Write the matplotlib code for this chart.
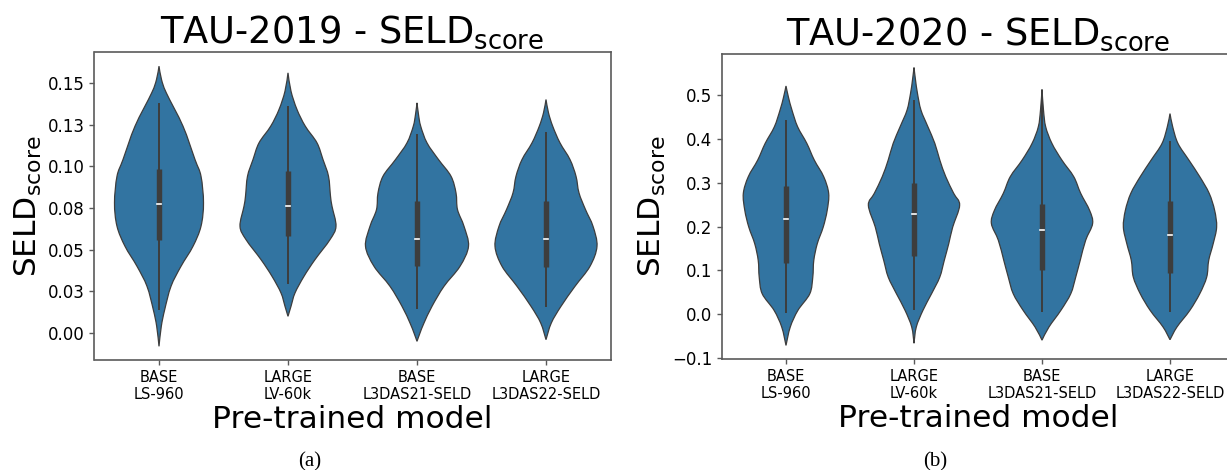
import numpy as np
import matplotlib.pyplot as plt
from matplotlib.path import Path
from matplotlib.patches import PathPatch

plt.rcParams['font.family'] = ['DejaVu Sans']
plt.rcParams['mathtext.default'] = 'regular'

models = ["BASE\nLS-960", "LARGE\nLV-60k", "BASE\nL3DAS21-SELD", "LARGE\nL3DAS22-SELD"]

# violin outlines: SELD levels and half widths (px, 129 px = one category)
tau19_levels = [
    [-0.008, 0.004, 0.014, 0.028, 0.040, 0.052, 0.064, 0.078, 0.094, 0.104, 0.124, 0.144, 0.152, 0.160],
    [0.010, 0.016, 0.024, 0.034, 0.044, 0.056, 0.064, 0.076, 0.082, 0.094, 0.104, 0.114, 0.124, 0.134, 0.145, 0.156],
    [-0.005, 0.000, 0.006, 0.016, 0.028, 0.040, 0.052, 0.064, 0.074, 0.084, 0.094, 0.104, 0.114, 0.124, 0.131, 0.138],
    [-0.004, 0.006, 0.016, 0.028, 0.040, 0.052, 0.064, 0.074, 0.084, 0.094, 0.104, 0.114, 0.124, 0.132, 0.140],
]
tau19_widths = [
    [0, 2.3, 5.7, 12, 22, 34, 42, 44.5, 42, 36, 24, 7.3, 2.5, 0],
    [0, 3, 7, 16, 27, 42, 48, 44, 42.5, 40.5, 35, 29, 17.3, 9, 3, 0],
    [0, 3, 7, 15, 27, 43, 51.5, 47, 40.5, 39, 34, 21.5, 10, 3.7, 1.5, 0],
    [0, 5.3, 15, 29, 44, 51, 47, 39.5, 33, 30, 24, 14, 6.7, 2.5, 0],
]
tau19_q1 = [0.0556, 0.0583, 0.0404, 0.0398]
tau19_med = [0.0771, 0.0761, 0.0564, 0.0562]
tau19_q3 = [0.0983, 0.0971, 0.0791, 0.0791]
tau19_lo = [0.0138, 0.0294, 0.0142, 0.0154]
tau19_hi = [0.1380, 0.1361, 0.1193, 0.1207]

tau20_levels = [
    [-0.071, -0.029, 0.009, 0.047, 0.085, 0.123, 0.161, 0.199, 0.237, 0.276, 0.314, 0.352, 0.390, 0.428, 0.466, 0.495, 0.521],
    [-0.066, -0.029, 0.009, 0.047, 0.085, 0.123, 0.161, 0.199, 0.249, 0.276, 0.314, 0.352, 0.390, 0.428, 0.466, 0.504, 0.535, 0.563],
    [-0.059, -0.029, 0.009, 0.047, 0.085, 0.123, 0.169, 0.207, 0.237, 0.276, 0.314, 0.352, 0.390, 0.428, 0.466, 0.513],
    [-0.058, -0.029, 0.009, 0.047, 0.085, 0.123, 0.161, 0.199, 0.237, 0.276, 0.314, 0.352, 0.390, 0.428, 0.458],
]
tau20_widths = [
    [0, 4.3, 12, 24, 27, 28, 31.5, 37.5, 41.5, 43, 38, 28.5, 21, 11.7, 6, 2.5, 0],
    [0, 2.3, 9, 17.7, 26, 30.5, 35, 39, 46, 40, 32, 26, 21, 14, 7, 3.5, 1.5, 0],
    [0, 7, 19, 29, 34, 38.5, 44, 51, 48, 39, 32, 20, 10, 3.7, 1.5, 0],
    [0, 7, 20, 30, 37, 39, 43.5, 47, 45, 39.5, 30, 19, 8, 2.7, 0],
]
tau20_q1 = [0.118, 0.1332, 0.102, 0.0944]
tau20_med = [0.2169, 0.2283, 0.1918, 0.1804]
tau20_q3 = [0.2938, 0.3006, 0.2527, 0.258]
tau20_lo = [0.0038, 0.0091, 0.0053, 0.0053]
tau20_hi = [0.4444, 0.490, 0.505, 0.395]

tau19_ticks = [0.0, 0.025, 0.05, 0.075, 0.1, 0.125, 0.15]
tau19_ticklabels = ['0.00', '0.03', '0.05', '0.08', '0.10', '0.13', '0.15']
tau20_ticks = [-0.1, 0.0, 0.1, 0.2, 0.3, 0.4, 0.5]
tau20_ticklabels = ['\u22120.1', '0.0', '0.1', '0.2', '0.3', '0.4', '0.5']

FILL = '#3274a1'
DARK = '#3d3d3d'
SPINE = '#5a5a5a'


def bezier(pts):
    # smooth curve through the points (catmull-rom as cubic bezier)
    ext = np.vstack([pts[0], pts, pts[-1]])
    verts = [pts[0]]
    for k in range(len(pts) - 1):
        p0, p1, p2, p3 = ext[k], ext[k + 1], ext[k + 2], ext[k + 3]
        verts += [p1 + (p2 - p0) / 6, p2 - (p3 - p1) / 6, p2]
    return verts


def draw_violins(ax, levels, widths, q1, med, q3, lo, hi):
    for i in range(len(levels)):
        y = np.array(levels[i])
        w = np.array(widths[i]) / 129.0
        right = np.column_stack([i + w, y])
        left = np.column_stack([i - w, y])[::-1]
        vr = bezier(right)
        vl = bezier(left)
        verts = vr + vl[1:] + [vr[0]]
        codes = [Path.MOVETO] + [Path.CURVE4] * (len(vr) - 1) + [Path.CURVE4] * (len(vl) - 1) + [Path.CLOSEPOLY]
        ax.add_patch(PathPatch(Path(verts, codes), facecolor=FILL, edgecolor=DARK, lw=0.9, zorder=2))
        ax.plot([i, i], [lo[i], hi[i]], color=DARK, lw=1.4, solid_capstyle='butt', zorder=3)
        ax.plot([i, i], [q1[i], q3[i]], color=DARK, lw=3.9, solid_capstyle='butt', zorder=3)
        ax.plot([i - 0.018, i + 0.018], [med[i], med[i]], color='white', lw=1.2, zorder=4)


def style(ax, title, ticks, ticklabels, ylim):
    ax.set_xlim(-0.5, 3.5)
    ax.set_ylim(*ylim)
    ax.set_xticks(range(len(models)))
    ax.set_xticklabels(models, fontsize=10.5, multialignment='center')
    ax.set_yticks(ticks)
    ax.set_yticklabels(ticklabels, fontsize=12)
    for s in ax.spines.values():
        s.set_color(SPINE)
        s.set_linewidth(1.2)
    ax.tick_params(colors=SPINE, labelcolor='black', length=3.5, width=1)
    ax.set_title(title, fontsize=26.5, pad=7)
    ax.set_xlabel('Pre-trained model', fontsize=22.5, labelpad=2)
    ax.set_ylabel('SELD$_{score}$', fontsize=22.5, labelpad=3)


fig = plt.figure(figsize=(12.27, 4.70), dpi=100)
ax1 = fig.add_axes([94.5 / 1227, 1 - 360 / 470, 516 / 1227, 308 / 470])
ax2 = fig.add_axes([722 / 1227, 1 - 359 / 470, 512 / 1227, 305 / 470])

draw_violins(ax1, tau19_levels, tau19_widths, tau19_q1, tau19_med, tau19_q3, tau19_lo, tau19_hi)
draw_violins(ax2, tau20_levels, tau20_widths, tau20_q1, tau20_med, tau20_q3, tau20_lo, tau20_hi)

style(ax1, 'TAU-2019 - SELD$_{score}$', tau19_ticks, tau19_ticklabels, (-0.0162, 0.1685))
style(ax2, 'TAU-2020 - SELD$_{score}$', tau20_ticks, tau20_ticklabels, (-0.102, 0.594))

fig.text(310 / 1227, 1 - 462 / 470, '(a)', family='Liberation Serif', fontsize=15, ha='center', va='center')
fig.text(935 / 1227, 1 - 462 / 470, '(b)', family='Liberation Serif', fontsize=15, ha='center', va='center')

fig.savefig('out.png', dpi=100)
